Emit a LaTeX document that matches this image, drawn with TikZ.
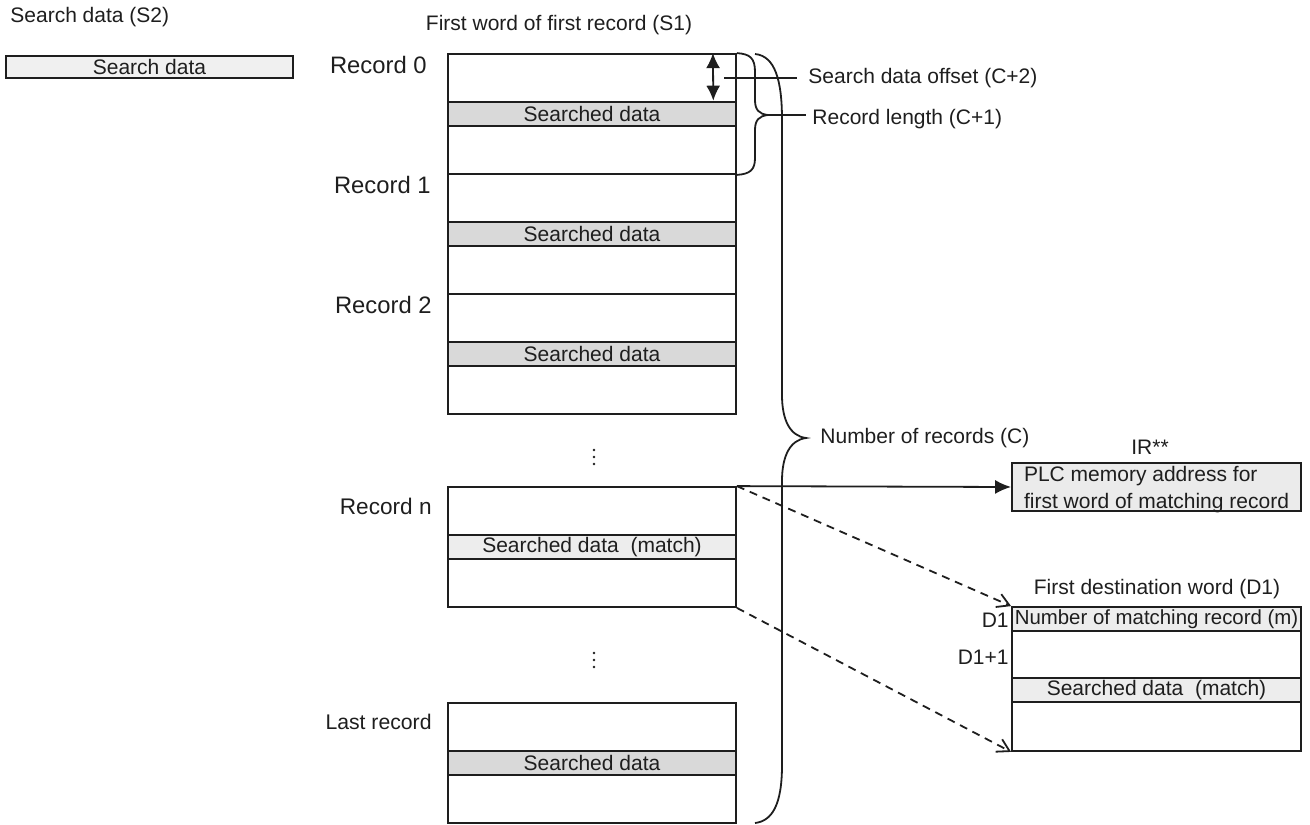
\documentclass[tikz,border=0pt]{standalone}
\usepackage{fontspec}
\setmainfont{Liberation Sans}
\usetikzlibrary{arrows.meta,calc}
\definecolor{bandgray}{HTML}{D9D9D9}
\definecolor{matchgray}{HTML}{EDEDED}
\definecolor{boxgray}{HTML}{F0F0F0}
\definecolor{irgray}{HTML}{EBEBEB}
\definecolor{ink}{HTML}{1E1E1E}
\begin{document}
\begin{tikzpicture}[x=0.5pt,y=-0.5pt,
  every node/.style={font=\fontsize{10.5}{12.6}\selectfont, text=ink},
  recbox/.style={draw=ink, line width=0.9pt, minimum width=144pt, minimum height=60pt, inner sep=0pt, fill=white},
  band/.style={draw=ink, line width=1.3pt, fill=bandgray, minimum width=144pt, minimum height=12pt, inner sep=0pt},
  matchband/.style={band, fill=matchgray},
  reclabel/.style={anchor=east, inner sep=0pt, font=\fontsize{11.9}{13}\selectfont},
  lbl/.style={anchor=west, inner sep=0pt},
  brace/.style={draw=ink, line width=0.9pt},
  leader/.style={draw=ink, line width=0.9pt},
  dotmark/.style={fill=ink, draw=none, circle, inner sep=0pt, minimum size=1.4pt},
  dashedarrow/.style={draw=ink, line width=0.9pt, dash pattern=on 4pt off 3pt, -{Straight Barb[length=6pt,width=7pt]}}
]
\useasboundingbox (0,0) rectangle (1310,824);

% search data
\node[lbl] (s2lbl) at (10,17) {Search data (S2)};
\node[draw=ink, line width=0.9pt, fill=boxgray, minimum width=143.5pt, minimum height=11pt, inner sep=0pt] (sdata) at (149.5,67) {Search data};
\node (s1lbl) at (559,25) {First word of first record (S1)};

% records
\node[recbox] (rec0) at (592,114) {};
\node[band] (band0) at (592,114) {Searched data};
\node[recbox] (rec1) at (592,234) {};
\node[band] (band1) at (592,234) {Searched data};
\node[recbox] (rec2) at (592,354) {};
\node[band] (band2) at (592,354) {Searched data};
\node[recbox] (recn) at (592,547) {};
\node[matchband] (bandn) at (592,547) {Searched data\ \ (match)};
\node[recbox] (recl) at (592,763) {};
\node[band] (bandl) at (592,763) {Searched data};

\node[reclabel] (l0) at (427,65) {Record 0};
\node[reclabel] (l1) at (431,185) {Record 1};
\node[reclabel] (l2) at (432,305) {Record 2};
\node[reclabel, font=\fontsize{11.3}{13}\selectfont] (ln) at (432,506) {Record n};
\node[reclabel, font=\fontsize{10.6}{12}\selectfont] (ll) at (432,722) {Last record};

% vertical dots
\node[dotmark] (d1a) at (594,450) {};
\node[dotmark] (d1b) at (594,457) {};
\node[dotmark] (d1c) at (594,464) {};
\node[dotmark] (d2a) at (594,653) {};
\node[dotmark] (d2b) at (594,660) {};
\node[dotmark] (d2c) at (594,667) {};

% search data offset
\coordinate (offT) at ($(rec0.north east)+(-24,0)$);
\coordinate (offB) at ($(band0.north east)+(-24,0)$);
\draw[ink, line width=0.9pt, {Latex[length=7.5pt,width=7pt]}-{Latex[length=7.5pt,width=7pt]}] (offT) -- (offB);
\node[lbl] (offlbl) at (808,78) {Search data offset (C+2)};
\coordinate (offL) at (724,78);
\draw[leader] (offL) -- ($(offlbl.west)+(-11,0)$);

% record length brace
\coordinate (rlt) at (768,115);
\coordinate (rlend) at (806,115);
\draw[brace] (rec0.north east) .. controls (750,54) and (755,58) .. (755,72) -- (755,100) .. controls (755,110) and (759,114) .. (rlt) .. controls (759,116) and (755,120) .. (755,130) -- (755,158) .. controls (755,170) and (750,174) .. (rec0.south east);
\draw[leader] (rlt) -- (rlend);
\node[lbl] (rllbl) at (812,119) {Record length (C+1)};

% number of records brace
\coordinate (bigtop) at (755,54);
\coordinate (bigtip) at (806,438);
\coordinate (bigbot) at (755,823);
\draw[brace] (bigtop) .. controls (775,56) and (782,80) .. (782,120) -- (782,395) .. controls (782,420) and (790,436) .. (bigtip) .. controls (790,440) and (782,456) .. (782,481) -- (782,765) .. controls (782,805) and (772,821) .. (bigbot);
\node[lbl] (nrlbl) at (820,438) {Number of records (C)};

% IR
\node (irlbl) at (1150,447) {IR**};
\node[draw=ink, line width=0.9pt, fill=irgray, minimum width=144.5pt, minimum height=24pt, inner xsep=5.5pt, inner ysep=0pt] (ir) at (1156.5,487) {\raisebox{-4pt}[0pt][0pt]{\begin{tabular}{@{}l@{}}PLC memory address for\\[0.9pt]first word of matching record\end{tabular}}};
\draw[ink, line width=0.9pt, -{Latex[length=8pt,width=7pt]}] (recn.north east) -- (ir.west);

% D1
\node (d1title) at (1157,589) {First destination word (D1)};
\node[draw=ink, line width=0.9pt, fill=white, minimum width=144.5pt, minimum height=72pt, inner sep=0pt] (d1box) at (1156.5,679) {};
\node[draw=ink, line width=1.3pt, fill=matchgray, minimum width=144.5pt, minimum height=12pt, inner sep=0pt, font=\fontsize{10.2}{12}\selectfont] (d1row) at (1156.5,619) {Number of matching record (m)};
\node[matchband, minimum width=144.5pt] (d1band) at (1156.5,690) {Searched data\ \ (match)};
\node[anchor=east, inner sep=0pt] (d1lbl) at (1009,620) {D1};
\node[anchor=east, inner sep=0pt] (d1p1lbl) at (1009,657) {D1+1};

\draw[dashedarrow] (recn.north east) -- (d1box.north west);
\draw[dashedarrow] (recn.south east) -- (d1box.south west);
\end{tikzpicture}
\end{document}
